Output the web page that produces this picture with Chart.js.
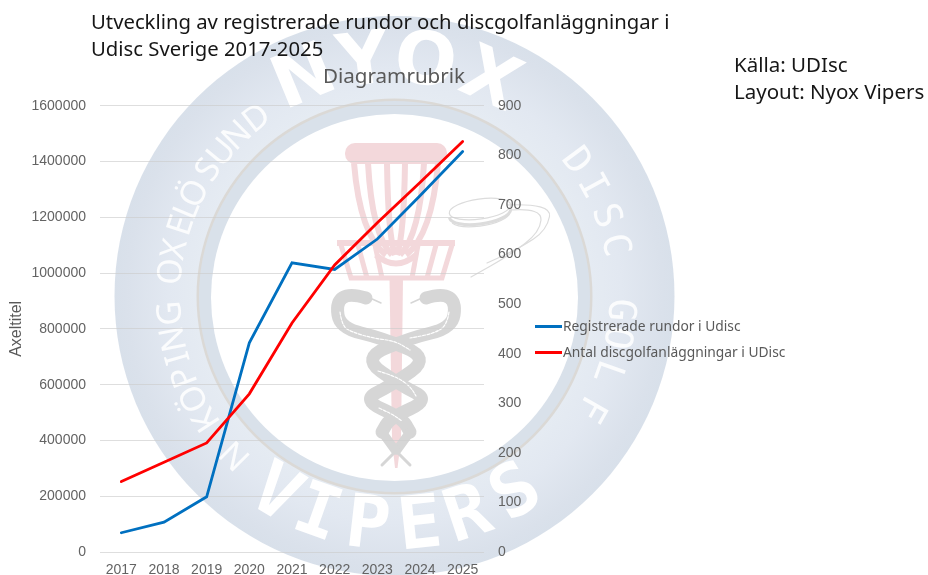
<!DOCTYPE html>
<html lang="sv">
<head>
<meta charset="utf-8">
<title>Utveckling av registrerade rundor och discgolfanläggningar</title>
<script src="https://cdn.jsdelivr.net/npm/chart.js@4/dist/chart.umd.min.js"></script>
<style>
html,body{margin:0;padding:0;background:#fff;width:928px;height:575px;overflow:hidden}
#wrap{position:relative;width:928px;height:575px}
canvas{position:absolute;left:0;top:0}
.note{position:absolute;font-family:"Noto Sans",sans-serif;color:#161616;font-size:20.3px;line-height:27px;white-space:nowrap}
#legend{position:absolute;left:535px;top:313px;font:13.8px "Noto Sans",sans-serif;color:#595959}
#legend div{position:relative;height:25.5px;line-height:25.5px;padding-left:28px;white-space:nowrap}
#legend i{position:absolute;left:0;top:12px;width:27px;height:3px}
</style>
</head>
<body>
<div id="wrap">
<canvas id="c" width="928" height="575"></canvas>
<div class="note" style="left:91px;top:8px">Utveckling av registrerade rundor och discgolfanläggningar i<br>Udisc Sverige 2017-2025</div>
<div class="note" style="left:734px;top:51px;font-size:20.5px">Källa: UDIsc<br>Layout: Nyox Vipers</div>
<div id="legend"></div>
</div>
<script>
const years = ['2017','2018','2019','2020','2021','2022','2023','2024','2025'];
const seriesRounds = [69000,107000,198000,750000,1037000,1013000,1122000,1277000,1436000];
const seriesCourses = [142,181,220,319,462,579,664,745,828];
const nameRounds = 'Registrerade rundor i Udisc';
const nameCourses = 'Antal discgolfanläggningar i UDisc';
const chartTitle = 'Diagramrubrik';
const axisTitle = 'Axeltitel';
const colorRounds = '#0070C0';
const colorCourses = '#FF0000';

const lettersBig = [['N',-22.5],['Y',-7.5],['O',7.5],['X',24]];
const lettersVipers = [['V',-31],['I',-19.5],['P',-6.6],['E',6.3],['R',18.5],['S',31.7]];
const lettersRight = [['D',53.4],['I',60.9],['S',69.3],['C',77],['G',93.5],['O',100.6],['L',109.6],['F',119.8]];
const lettersLeft = [['N',-135],['K',-123.3],['Ö',-117],['P',-111],['I',-106],['N',-101],['G',-94.4],['O',-83.8],['X',-78],['E',-71.7],['L',-67.4],['Ö',-62.9],['S',-55.9],['U',-50.3],['N',-44.4],['D',-37.8]];

function smooth(ctx, p){
  ctx.moveTo(p[0][0],p[0][1]);
  for(let i=1;i<p.length-1;i++){
    const mx=(p[i][0]+p[i+1][0])/2,my=(p[i][1]+p[i+1][1])/2;
    ctx.quadraticCurveTo(p[i][0],p[i][1],mx,my);
  }
  const n=p.length-1;ctx.lineTo(p[n][0],p[n][1]);
}
function poly(ctx,p,w,col){ctx.beginPath();smooth(ctx,p);ctx.lineWidth=w;ctx.strokeStyle=col;ctx.lineCap='round';ctx.lineJoin='round';ctx.stroke();}

function drawWatermark(ctx){
  const cx=394.5,cy=296;
  ctx.save();
  const g=ctx.createRadialGradient(cx,cy,190,cx,cy,282);
  g.addColorStop(0,'#e6ecf3');g.addColorStop(.4,'#e2e8f1');g.addColorStop(.85,'#dae1eb');g.addColorStop(1,'#d8e0ea');
  ctx.fillStyle=g;ctx.beginPath();ctx.arc(cx,cy,280,0,Math.PI*2);ctx.fill();
  ctx.fillStyle='#dbd9d6';ctx.beginPath();ctx.arc(cx,cy+.5,198,0,Math.PI*2);ctx.fill();
  ctx.fillStyle='#d9e1ea';ctx.beginPath();ctx.arc(cx,cy+.5,195.5,0,Math.PI*2);ctx.fill();
  ctx.fillStyle='#ffffff';ctx.beginPath();ctx.arc(cx,cy+1.5,183.5,0,Math.PI*2);ctx.fill();

  const place=(list,r,font,col,flip)=>{
    ctx.font=font;ctx.fillStyle=col;ctx.textAlign='center';ctx.textBaseline='middle';
    list.forEach(([ch,a])=>{
      const t=a*Math.PI/180;
      ctx.save();
      if(flip){ctx.translate(cx+Math.sin(t)*r,cy+Math.cos(t)*r);ctx.rotate(-t);}
      else{ctx.translate(cx+Math.sin(t)*r,cy-Math.cos(t)*r);ctx.rotate(t);}
      ctx.fillText(ch,0,0);ctx.restore();
    });
  };
  place(lettersBig,233,'bold 73px "DejaVu Sans"','#ffffff',false);
  place(lettersVipers,234,'bold 73px "DejaVu Sans Mono"','#ffffff',true);
  place(lettersRight,225,'38px "DejaVu Sans Mono"','rgba(255,255,255,.85)',false);
  place(lettersLeft,224,'34px "Noto Sans"','rgba(255,255,255,.85)',false);

  // basket
  const pink='#f3d8db';ctx.fillStyle=pink;ctx.strokeStyle=pink;
  ctx.beginPath();ctx.roundRect(345,143,102,21,10);ctx.fill();
  ctx.lineCap='butt';ctx.lineWidth=6;
  [[42,36,10],[28,24,4],[9,8,1]].forEach(([a,b,c])=>{
    [-1,1].forEach(s=>{ctx.beginPath();ctx.moveTo(396+s*a,163);ctx.quadraticCurveTo(396+s*b,235,396+s*c,255);ctx.stroke();});
  });
  ctx.beginPath();ctx.moveTo(337,243);ctx.lineTo(455,243);ctx.lineWidth=6;ctx.stroke();
  ctx.beginPath();ctx.moveTo(341,245);ctx.lineTo(351,278);ctx.lineTo(442,278);ctx.lineTo(452,245);ctx.lineWidth=5;ctx.stroke();
  [[358,367],[375,382],[418,412],[436,427]].forEach(([a,b])=>{ctx.beginPath();ctx.moveTo(a,245);ctx.lineTo(b,278);ctx.lineWidth=5;ctx.stroke();});
  ctx.beginPath();ctx.moveTo(376,255);ctx.quadraticCurveTo(396,272,416,255);ctx.lineWidth=6;ctx.stroke();
  ctx.beginPath();ctx.moveTo(389.5,278);ctx.lineTo(403,278);ctx.lineTo(401,440);ctx.lineTo(397.5,468);ctx.lineTo(395,468);ctx.lineTo(392,440);ctx.closePath();ctx.fill();

  // snakes
  const grey='#d6d6d6';
  const s1=[[426,298],[442,293],[456,302],[452,328],[410,338],[362,358],[400,385],[430,400],[390,418],[382,432],[395,450],[410,465]];
  const s2=[[366,298],[350,293],[336,302],[340,328],[382,338],[430,358],[392,385],[362,400],[402,418],[410,432],[397,450],[382,465]];
  [s2,s1].forEach(p=>{
    poly(ctx,p.slice(0,10),13,grey);
    poly(ctx,p.slice(9,11),9,grey);
    poly(ctx,p.slice(10),3,grey);
  });
  poly(ctx,[[370,298],[381,303]],1.5,grey);
  poly(ctx,[[422,298],[411,303]],1.5,grey);
  [[[340,312],[342,326],[352,332],[372,338],[395,341],[410,350]],
   [[449,312],[447,326],[432,334],[410,338]],
   [[378,371],[395,376],[410,386],[416,396]],
   [[379,408],[392,414],[402,421]]].forEach(p=>{
    ctx.save();ctx.setLineDash([3,1.5]);poly(ctx,p,1.2,'#ffffff');ctx.restore();
  });
  ctx.lineCap='butt';

  // disc
  ctx.strokeStyle='#dcdcdc';ctx.lineWidth=1.2;
  ctx.beginPath();ctx.ellipse(480,209,31,10,-.14,0,Math.PI*2);ctx.stroke();
  ctx.lineWidth=3;ctx.beginPath();ctx.ellipse(480,213,31,11,-.14,.05,Math.PI-.05);ctx.stroke();
  ctx.lineWidth=1.2;
  ctx.beginPath();ctx.ellipse(480,216,30,10,-.14,.05,Math.PI*.9);ctx.stroke();
  poly(ctx,[[507,205],[552,203],[547,230],[520,248],[487,263]],1.2,'#dcdcdc');
  poly(ctx,[[512,210],[542,208],[540,232],[510,255],[471,277]],1.2,'#dcdcdc');
  ctx.restore();
}
const watermark={id:'watermark',beforeDraw(chart){drawWatermark(chart.ctx);}};
const tickColor='#636363';
const tickFont={family:'"Liberation Sans",sans-serif',size:14};
const chart=new Chart(document.getElementById('c'),{
  type:'line',
  plugins:[watermark],
  data:{labels:years,datasets:[
    {label:nameRounds,data:seriesRounds,yAxisID:'y',borderColor:colorRounds,borderWidth:2.8,pointRadius:0,tension:0,order:2,borderCapStyle:'round'},
    {label:nameCourses,data:seriesCourses,yAxisID:'y1',borderColor:colorCourses,borderWidth:2.8,pointRadius:0,tension:0,order:1,borderCapStyle:'round'}
  ]},
  options:{
    responsive:false,animation:false,
    layout:{padding:{left:3,right:143,top:65,bottom:0}},
    plugins:{
      tooltip:{enabled:false},legend:{display:false},
      title:{display:true,text:chartTitle,color:'#595959',font:{family:'"Noto Sans",sans-serif',size:20.6,weight:'normal'},padding:{top:0,bottom:16}}
    },
    scales:{
      x:{offset:true,grid:{display:false,drawTicks:false},border:{display:false},ticks:{color:tickColor,font:tickFont,padding:10,maxRotation:0,autoSkip:false},afterFit(a){a.height=23;}},
      y:{position:'left',min:0,max:1600000,afterFit(a){a.width=97;},
        ticks:{stepSize:200000,color:tickColor,font:tickFont,padding:14,callback:v=>String(v)},
        grid:{color:'rgba(205,205,205,.65)',lineWidth:1,drawTicks:false},border:{display:false},
        title:{display:true,text:axisTitle,color:'#595959',font:{family:'"Liberation Sans",sans-serif',size:16},padding:{top:4,bottom:0}}},
      y1:{position:'right',min:0,max:900,afterFit(a){a.width=301;},
        ticks:{stepSize:100,color:tickColor,font:tickFont,padding:14,callback:v=>String(v)},
        grid:{display:false,drawTicks:false},border:{display:false}}
    }
  }
});
const legendEl=document.getElementById('legend');
chart.data.datasets.forEach(d=>{
  const row=document.createElement('div');
  const sw=document.createElement('i');sw.style.background=d.borderColor;
  row.appendChild(sw);row.appendChild(document.createTextNode(d.label));
  legendEl.appendChild(row);
});
</script>
</body>
</html>
